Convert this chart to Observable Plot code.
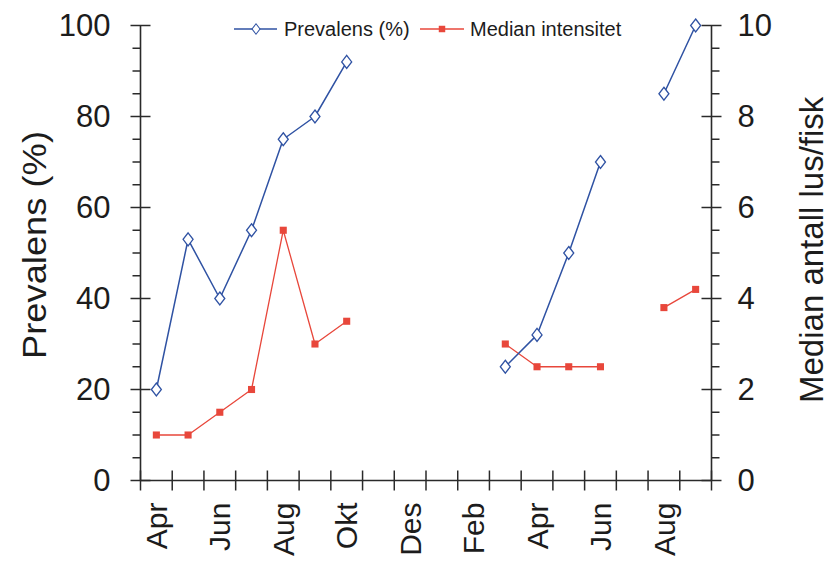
<!DOCTYPE html>
<html>
<head>
<meta charset="utf-8">
<script src="https://cdn.jsdelivr.net/npm/d3@7"></script>
<script src="https://cdn.jsdelivr.net/npm/@observablehq/plot@0.6"></script>
<style>
  html, body { margin: 0; padding: 0; background: #fff; }
  #chart { width: 836px; height: 563px; overflow: hidden; }
  svg text { font-family: "Liberation Sans", Arial, sans-serif; }
</style>
</head>
<body>
<div id="chart"></div>
<script>
// ---- data ----
const months = ["Apr","Mai","Jun","Jul","Aug","Sep","Okt","Nov","Des","Jan","Feb","Mar","Apr","Mai","Jun","Jul","Aug","Sep"];
const prevalens = [20, 53, 40, 55, 75, 80, 92, null, null, null, null, 25, 32, 50, 70, null, 85, 100];
const medianIntensitet = [1.0, 1.0, 1.5, 2.0, 5.5, 3.0, 3.5, null, null, null, null, 3.0, 2.5, 2.5, 2.5, null, 3.8, 4.2];
const leftTicks = [0, 20, 40, 60, 80, 100];
const rightTicks = [0, 2, 4, 6, 8, 10];
const seriesNames = ["Prevalens (%)", "Median intensitet"];
const axisTitles = ["Prevalens (%)", "Median antall lus/fisk"];

// ---- styling ----
const blue = "#2f52a3";
const red = "#e8473b";
const axisColor = "#2a2a2a";
const textColor = "#1c1c1c";
const rightScale = 10; // right axis value * 10 -> left axis units

const rows = months.map((m, i) => ({
  i, m, x: i + 0.5,
  prev: prevalens[i] == null ? NaN : prevalens[i],
  med: medianIntensitet[i] == null ? NaN : medianIntensitet[i] * rightScale
}));
const labelRows = rows.filter(d => d.i % 2 === 0);
const minorTicks = d3.range(0, 101, 5).filter(v => v % 20 !== 0);
const xTicks = d3.range(0, months.length + 1);

// custom tick symbols
const hCross = {draw(c) { c.moveTo(-10, 0); c.lineTo(10, 0); }};
const hLeft = {draw(c) { c.moveTo(-8, 0); c.lineTo(0, 0); }};
const hRight = {draw(c) { c.moveTo(0, 0); c.lineTo(8, 0); }};
const vCross = {draw(c) { c.moveTo(0, -10); c.lineTo(0, 10); }};
const diamond = {draw(c) { c.moveTo(0, -6.5); c.lineTo(5, 0); c.lineTo(0, 6.5); c.lineTo(-5, 0); c.closePath(); }};

const tickStyle = {stroke: axisColor, strokeWidth: 1.5, fill: "none"};

const plot = Plot.plot({
  width: 836,
  height: 563,
  marginLeft: 140,
  marginRight: 125,
  marginTop: 25,
  marginBottom: 83,
  x: {domain: [0, months.length], axis: null},
  y: {domain: [0, 100], axis: null},
  style: {background: "white", color: textColor, fontFamily: '"Liberation Sans", Arial, sans-serif'},
  marks: [
    // axis lines
    Plot.ruleX([0], {stroke: axisColor, strokeWidth: 1.6}),
    Plot.ruleX([months.length], {stroke: axisColor, strokeWidth: 1.6}),
    Plot.ruleY([0], {stroke: axisColor, strokeWidth: 1.6}),
    // tick marks
    Plot.dot(leftTicks, {x: () => 0, y: d => d, symbol: hCross, ...tickStyle}),
    Plot.dot(minorTicks, {x: () => 0, y: d => d, symbol: hLeft, ...tickStyle}),
    Plot.dot(rightTicks, {x: () => months.length, y: d => d * rightScale, symbol: hCross, ...tickStyle}),
    Plot.dot(minorTicks, {x: () => months.length, y: d => d, symbol: hRight, ...tickStyle}),
    Plot.dot(xTicks, {x: d => d, y: () => 0, symbol: vCross, ...tickStyle}),
    // tick labels
    Plot.axisY({anchor: "left", ticks: leftTicks, tickSize: 0, tickPadding: 30, fontSize: 31, dy: 1, label: null, ariaLabel: "left-labels"}),
    Plot.axisY({anchor: "right", ticks: rightTicks.map(d => d * rightScale), tickFormat: d => String(d / rightScale), tickSize: 0, tickPadding: 26, fontSize: 31, dy: 1, label: null, ariaLabel: "right-labels"}),
    Plot.text(labelRows, {x: "x", y: () => 0, text: "m", rotate: -90, textAnchor: "end", lineAnchor: "middle", dy: 22, dx: 1, fontSize: 30, fill: textColor, ariaLabel: "month-labels"}),
    // series
    Plot.line(rows, {x: "x", y: "med", stroke: red, strokeWidth: 1.3}),
    Plot.dot(rows.filter(d => !isNaN(d.med)), {x: "x", y: "med", symbol: "square", r: 4, fill: red, stroke: "none"}),
    Plot.line(rows, {x: "x", y: "prev", stroke: blue, strokeWidth: 1.5}),
    Plot.dot(rows.filter(d => !isNaN(d.prev)), {x: "x", y: "prev", symbol: diamond, fill: "white", stroke: blue, strokeWidth: 1.3})
  ]
});

document.getElementById("chart").appendChild(plot);

const svg = d3.select(plot);

// axis titles
const leftTitle = svg.append("text")
  .attr("transform", "translate(46,245) rotate(-90)")
  .attr("text-anchor", "middle")
  .attr("font-size", 33)
  .attr("fill", textColor)
  .text(axisTitles[0]);
svg.append("text")
  .attr("transform", "translate(823,403) rotate(-90)")
  .attr("text-anchor", "start")
  .attr("font-size", 33)
  .attr("fill", textColor)
  .text(axisTitles[1]);

// legend
const lg = svg.append("g").attr("class", "legend").attr("text-anchor", "start");
lg.append("line").attr("x1", 234).attr("x2", 277).attr("y1", 29).attr("y2", 29).attr("stroke", blue).attr("stroke-width", 1.5);
lg.append("path").attr("d", d3.symbol(diamond)()).attr("transform", "translate(256,29) scale(0.8)").attr("fill", "white").attr("stroke", blue).attr("stroke-width", 1.3);
lg.append("text").attr("x", 284).attr("y", 36).attr("text-anchor", "start").attr("font-size", 20).attr("fill", textColor).text(seriesNames[0]);
lg.append("line").attr("x1", 420).attr("x2", 464).attr("y1", 29).attr("y2", 29).attr("stroke", red).attr("stroke-width", 1.3);
lg.append("path").attr("d", d3.symbol(d3.symbolSquare, 42)()).attr("transform", "translate(442,29)").attr("fill", red);
lg.append("text").attr("x", 470).attr("y", 36).attr("text-anchor", "start").attr("font-size", 20).attr("fill", textColor).text(seriesNames[1]);

// widen lettering to match the reference's wide glyphs
function stretch(selection, k) {
  selection.each(function () {
    const L = this.getComputedTextLength();
    if (L > 0) {
      this.setAttribute("textLength", L * k);
      this.setAttribute("lengthAdjust", "spacingAndGlyphs");
    }
  });
}
stretch(svg.selectAll('g[aria-label="left-labels"] text, g[aria-label="right-labels"] text'), 1.12);
stretch(svg.selectAll('g[aria-label="month-labels"] text'), 1.12);
stretch(leftTitle, 1.1);
</script>
</body>
</html>
